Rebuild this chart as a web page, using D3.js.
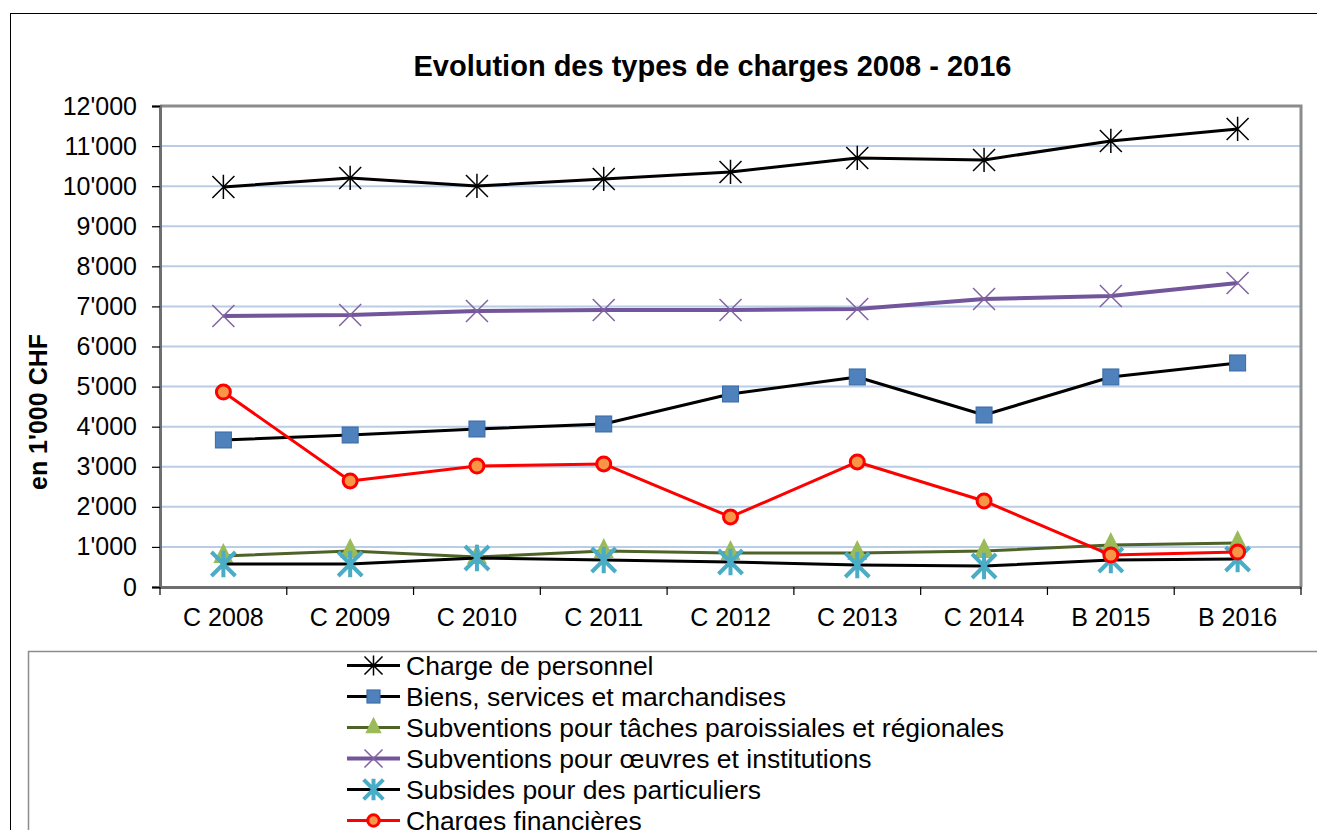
<!DOCTYPE html>
<html><head><meta charset="utf-8">
<script src="https://cdn.jsdelivr.net/npm/d3@7"></script>
<style>body{margin:0;background:#fff;font-family:Arial,"Liberation Sans",sans-serif}</style>
</head><body><svg id="c" width="1317" height="830"></svg>
<script>
const categories = ["C 2008","C 2009","C 2010","C 2011","C 2012","C 2013","C 2014","B 2015","B 2016"];
const personnel = [9980,10205,10005,10180,10355,10705,10655,11128,11427];
const biens = [3668,3792,3942,4067,4815,5240,4291,5240,5589];
const taches = [773,898,748,898,848,848,898,1048,1098];
const oeuvres = [6761,6786,6886,6911,6911,6936,7186,7260,7585];
const subsides = [574,574,724,674,624,549,524,674,699];
const financieres = [4865,2645,3019,3069,1747,3119,2146,798,873];
const yTicks = [0,1000,2000,3000,4000,5000,6000,7000,8000,9000,10000,11000,12000];
const seriesNames = ["Charge de personnel","Biens, services et marchandises","Subventions pour tâches paroissiales et régionales","Subventions pour œuvres et institutions","Subsides pour des particuliers","Charges financières"];

const series = [
 {name:seriesNames[0], values:personnel, line:"#000", lw:3, marker:"star", mc:"#000", ms:11},
 {name:seriesNames[1], values:biens, line:"#000", lw:3, marker:"square", mc:"#4f81bd", ms:8},
 {name:seriesNames[2], values:taches, line:"#4f6228", lw:3, marker:"tri", mc:"#9bbb59", ms:10},
 {name:seriesNames[3], values:oeuvres, line:"#72559a", lw:4, marker:"x", mc:"#8064a2", ms:11},
 {name:seriesNames[4], values:subsides, line:"#000", lw:3, marker:"aster", mc:"#4bacc6", ms:12},
 {name:seriesNames[5], values:financieres, line:"#ff0000", lw:3, marker:"circle", mc:"#f79646", ms:7}
];

const FONT="Arial,'Liberation Sans',sans-serif";
const svg = d3.select("#c");
svg.append("rect").attr("x",10.5).attr("y",13.5).attr("width",1320).attr("height",830).attr("fill","#fff").attr("stroke","#000").attr("stroke-width",1);

const L=160,R=1301,T=106,B=587;
const x = d3.scaleBand().domain(categories).range([L,R]);
const y = d3.scaleLinear().domain([0,12000]).range([B,T]);

svg.append("text").attr("x",712.5).attr("y",76).attr("text-anchor","middle").attr("font-size","29px").attr("font-weight","bold").attr("font-family",FONT).text("Evolution des types de charges 2008 - 2016");

svg.append("g").selectAll("line").data(yTicks.filter(d=>d>0 && d<12000)).join("line")
 .attr("x1",L).attr("x2",R).attr("y1",d=>y(d)).attr("y2",d=>y(d)).attr("stroke","#b9cde5").attr("stroke-width",2);

svg.append("path").attr("d",`M${L},${T}H${R}V${B}`).attr("fill","none").attr("stroke","#8c8c8c").attr("stroke-width",3);

const fmt = d => d>=1000 ? Math.floor(d/1000)+"'"+String(d%1000).padStart(3,"0") : String(d);
const yAxis = svg.append("g").attr("transform",`translate(${L},0)`).call(d3.axisLeft(y).tickValues(yTicks).tickFormat(fmt).tickSize(8).tickPadding(15));
yAxis.select(".domain").attr("stroke","#6e6e6e").attr("stroke-width",3);
yAxis.selectAll(".tick line").attr("stroke","#000").attr("stroke-width",1.2);
yAxis.selectAll("text").attr("font-size","25px").attr("font-family",FONT).attr("fill","#000");

const xAxis = svg.append("g").attr("transform",`translate(0,${B})`).call(d3.axisBottom(x).tickSize(0).tickPadding(21));
xAxis.select(".domain").attr("stroke","#6e6e6e").attr("stroke-width",3);
xAxis.selectAll("text").attr("font-size","25px").attr("font-family",FONT).attr("fill","#000");
svg.append("g").selectAll("line").data(d3.range(categories.length+1)).join("line")
 .attr("x1",i=>L+i*x.step()).attr("x2",i=>L+i*x.step()).attr("y1",B).attr("y2",B+8).attr("stroke","#000").attr("stroke-width",1.2);

svg.append("text").attr("transform","translate(47,412) rotate(-90)").attr("text-anchor","middle").attr("font-size","25px").attr("font-weight","bold").attr("font-family",FONT).text("en 1'000 CHF");

function drawMarker(g, s, cx, cy){
 const m=s.ms;
 if(s.marker==="star"){
   g.append("path").attr("d",`M${cx-m},${cy-m}L${cx+m},${cy+m}M${cx-m},${cy+m}L${cx+m},${cy-m}M${cx},${cy-m*1.1}V${cy+m*1.1}`).attr("stroke",s.mc).attr("stroke-width",1.5).attr("fill","none");
 } else if(s.marker==="square"){
   g.append("rect").attr("x",cx-m).attr("y",cy-m).attr("width",2*m).attr("height",2*m).attr("fill",s.mc).attr("stroke","#3a6aa5").attr("stroke-width",1);
 } else if(s.marker==="tri"){
   g.append("path").attr("d",`M${cx},${cy-m*1.3}L${cx+m},${cy+m*0.7}L${cx-m},${cy+m*0.7}Z`).attr("fill",s.mc);
 } else if(s.marker==="x"){
   g.append("path").attr("d",`M${cx-m},${cy-m}L${cx+m},${cy+m}M${cx-m},${cy+m}L${cx+m},${cy-m}`).attr("stroke",s.mc).attr("stroke-width",1.5).attr("fill","none");
 } else if(s.marker==="aster"){
   g.append("path").attr("d",`M${cx-m},${cy-m}L${cx+m},${cy+m}M${cx-m},${cy+m}L${cx+m},${cy-m}M${cx},${cy-m*1.1}V${cy+m*1.1}`).attr("stroke",s.mc).attr("stroke-width",4).attr("fill","none");
 } else if(s.marker==="circle"){
   g.append("circle").attr("cx",cx).attr("cy",cy).attr("r",m).attr("fill",s.mc).attr("stroke","#ff0000").attr("stroke-width",3);
 }
}

const line = d3.line().x((d,i)=>x(categories[i])+x.bandwidth()/2).y(d=>y(d));
series.forEach(s=>{
 const g=svg.append("g");
 g.append("path").attr("d",line(s.values)).attr("fill","none").attr("stroke",s.line).attr("stroke-width",s.lw).attr("stroke-linejoin","round");
 s.values.forEach((v,i)=>drawMarker(g,s,x(categories[i])+x.bandwidth()/2,y(v)));
});

svg.append("rect").attr("x",28.5).attr("y",651.5).attr("width",1290).attr("height",200).attr("fill","#fff").attr("stroke","#8c8c8c").attr("stroke-width",1.5);
series.forEach((s,i)=>{
 const ly=665.5+i*31, g=svg.append("g");
 g.append("line").attr("x1",347).attr("x2",400).attr("y1",ly).attr("y2",ly).attr("stroke",s.line).attr("stroke-width",s.lw);
 const ls=Object.assign({},s,{ms:s.ms*0.82});
 drawMarker(g,ls,373.5,ly);
 g.append("text").attr("x",406).attr("y",ly+9.5).attr("font-size","26.5px").attr("font-family",FONT).text(s.name);
});
</script></body></html>
